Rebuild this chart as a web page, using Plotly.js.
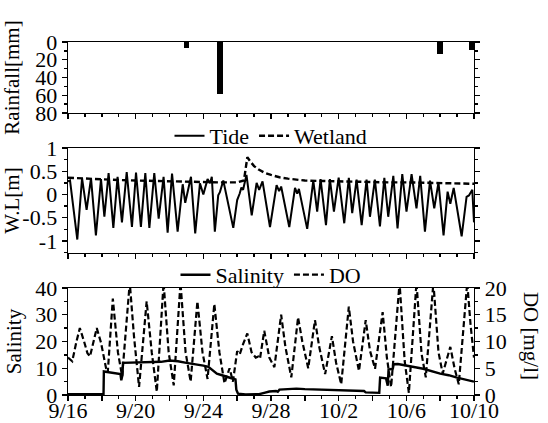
<!DOCTYPE html>
<html><head><meta charset="utf-8">
<script src="https://cdn.plot.ly/plotly-3.0.1.min.js"></script>
<style>body{margin:0;background:#fff}#chart{width:548px;height:423px;}</style>
</head><body><div id="chart"></div>
<script>
// x values are days since 9/16 00:00
const dayTicks = [0,2,4,6,8,10,12,14,16,18,20,22,24];
const dayLabels = ['9/16','','9/20','','9/24','','9/28','','10/2','','10/6','','10/10'];

// Rainfall [mm]
const rainDay = [7, 9, 22, 23.85];
const rainMm  = [7, 59, 13, 9];

// Tide water level [m] (extrema)
const tideDay = [0.00,0.12,0.55,0.83,1.10,1.36,1.65,1.95,2.15,2.40,2.68,2.93,3.19,3.47,3.78,4.02,4.31,4.57,4.81,5.10,5.36,5.65,5.89,6.15,6.48,6.78,6.93,7.27,7.52,7.80,8.00,8.25,8.40,8.50,8.68,8.88,8.98,9.18,9.77,10.00,10.15,10.25,10.35,10.55,10.86,11.15,11.30,11.50,11.94,12.33,12.48,12.60,13.08,13.42,13.55,13.65,14.14,14.50,14.73,14.93,15.25,15.48,15.72,16.00,16.33,16.60,16.80,17.06,17.36,17.65,17.85,18.14,18.44,18.70,18.93,19.23,19.48,19.76,20.01,20.31,20.60,20.82,21.10,21.40,21.65,21.90,22.20,22.44,22.60,22.80,23.27,23.56,23.70,23.90,24.00];
const tideWL  = [0.28,0.30,-0.97,0.35,-0.33,0.35,-0.88,0.33,-0.48,0.46,-0.72,0.38,-0.60,0.48,-0.70,0.47,-0.70,0.46,-0.72,0.46,-0.52,0.38,-0.82,0.45,-0.80,0.22,-0.18,0.38,-0.84,0.24,0.00,0.33,0.24,0.38,-0.80,-0.02,0.05,0.30,-0.72,-0.12,0.02,0.15,0.10,0.42,-0.45,0.25,0.10,0.28,-0.70,0.20,0.07,0.17,-0.70,0.14,0.02,0.12,-0.74,0.30,-0.37,0.33,-0.66,0.33,-0.37,0.36,-0.62,0.36,-0.40,0.32,-0.66,0.32,-0.48,0.32,-0.69,0.36,-0.48,0.40,-0.73,0.44,-0.37,0.44,-0.30,0.40,-0.80,0.30,-0.30,0.26,-0.88,0.06,-0.20,0.14,-0.90,-0.05,-0.02,0.10,-0.60];

// Wetland water level [m]
const wetDay = [0,1,2,3,4,5,6,7,8,9,10,10.4,10.5,10.6,10.8,11.0,11.3,11.6,12.0,12.5,13.0,13.5,14,15,16,17,18,19,20,21,22,23,24];
const wetWL  = [0.36,0.34,0.32,0.31,0.30,0.29,0.28,0.27,0.26,0.26,0.26,0.30,0.55,0.80,0.70,0.61,0.53,0.47,0.42,0.37,0.34,0.32,0.30,0.29,0.28,0.27,0.27,0.26,0.26,0.25,0.24,0.23,0.23];

// Salinity
const salDay = [0,2.1,2.12,2.5,3.0,3.1,3.15,3.22,3.25,4.0,5.0,5.5,6.0,6.5,7.0,7.5,8.0,8.3,8.6,8.8,9.2,9.6,9.9,9.95,10.05,10.5,11.3,11.6,11.9,12.3,12.4,12.5,13.0,13.5,14.0,15.0,16.0,17.0,17.5,17.6,18.4,18.45,18.8,18.9,18.95,19.2,19.25,19.5,20.0,21.0,22.0,22.5,23.0,23.5,24.0];
const salVal = [0.3,0.4,8.8,8.5,8.0,7.8,5.5,7.5,12.0,12.1,12.3,12.4,12.9,12.6,12.0,11.6,11.0,10.5,9.0,8.0,7.2,6.5,5.8,2.0,0.5,0.2,0.3,0.8,1.3,1.5,1.2,2.0,2.2,2.4,2.2,2.0,1.8,1.6,1.5,1.0,0.8,6.5,6.2,3.5,9.5,9.8,11.5,11.6,11.0,9.8,8.0,7.4,6.5,5.7,5.0];

// DO [mg/l]
const doDay = [0,0.25,0.5,0.7,0.95,1.15,1.3,1.5,1.7,1.95,2.25,2.35,2.65,2.95,3.2,3.65,3.9,4.2,4.65,4.95,5.25,5.65,5.95,6.25,6.65,6.95,7.25,7.65,7.95,8.25,8.65,8.95,9.25,9.55,9.75,10.0,10.15,10.35,10.6,10.85,11.1,11.25,11.35,11.6,11.9,12.2,12.6,12.85,13.2,13.6,13.85,14.2,14.6,14.85,15.2,15.6,15.85,16.15,16.6,16.85,17.2,17.6,17.85,18.15,18.6,18.85,19.1,19.6,19.9,20.15,20.6,20.9,21.15,21.6,21.9,22.15,22.6,22.85,23.1,23.6,23.8,24.0];
const doVal = [7,6.3,10,12.5,10,7.8,7.2,10,12.5,9.8,5,4.2,18,8,3.5,21,11,1.5,17.5,8,0.6,21,8,1.8,21,8,2.5,17.5,8,3,17,8,2.2,5,2.5,8.2,7.6,9.5,11.5,8,7,7.2,6.8,12,7,5.2,15,9,3.3,14.5,10,5,14,9,3.9,11,6,2,16.5,10,4.5,14,8.3,4.9,15.5,7,1.5,21,6.4,0.4,21,7.7,3.3,21,8,4,9,5,2,21,13,7];

const FONT = '"Liberation Serif", "Times New Roman", Times, serif';
const K = '#000';
const TICKSZ = 22, TITLESZ = 21, LEGSZ = 22;

function xAx(anchor, labels) {
  return {
    anchor: anchor, domain: [0, 1], range: [0, 24],
    tickmode: 'array', tickvals: dayTicks, ticktext: dayLabels,
    showticklabels: labels, ticks: 'outside', ticklen: 5, tickwidth: 1.4, tickcolor: K,
    minor: {tickmode: 'linear', tick0: 0, dtick: 1, ticks: 'outside', ticklen: 3, tickwidth: 1.4, tickcolor: K},
    showline: true, linecolor: K, linewidth: 1.4, mirror: true,
    showgrid: false, zeroline: false,
    tickfont: {family: FONT, size: TICKSZ, color: K}
  };
}
function yAx(anchor, domain, range, vals, texts, minorStep, title, standoff) {
  return {
    anchor: anchor, domain: domain, range: range,
    tickmode: 'array', tickvals: vals, ticktext: texts,
    ticks: 'outside', ticklen: 5, tickwidth: 1.4, tickcolor: K,
    minor: {tickmode: 'linear', tick0: 0, dtick: minorStep, ticks: 'outside', ticklen: 3, tickwidth: 1.4, tickcolor: K},
    showline: true, linecolor: K, linewidth: 1.4, mirror: 'ticks',
    showgrid: false, zeroline: false,
    tickfont: {family: FONT, size: TICKSZ, color: K},
    title: {text: title, font: {family: FONT, size: TITLESZ, color: K}, standoff: standoff}
  };
}

const traces = [
  {type: 'bar', x: rainDay, y: rainMm, xaxis: 'x', yaxis: 'y', width: 0.34,
   marker: {color: K, line: {width: 0}}, showlegend: false},
  {type: 'scatter', mode: 'lines', name: 'Tide', x: tideDay, y: tideWL, xaxis: 'x2', yaxis: 'y2',
   line: {color: K, width: 2}, legend: 'legend'},
  {type: 'scatter', mode: 'lines', name: 'Wetland', x: wetDay, y: wetWL, xaxis: 'x2', yaxis: 'y2',
   line: {color: K, width: 2.4, dash: '6px,3px'}, legend: 'legend'},
  {type: 'scatter', mode: 'lines', name: 'Salinity', x: salDay, y: salVal, xaxis: 'x3', yaxis: 'y3',
   line: {color: K, width: 2.4}, legend: 'legend2'},
  {type: 'scatter', mode: 'lines', name: 'DO', x: doDay, y: doVal, xaxis: 'x3', yaxis: 'y4',
   line: {color: K, width: 2.2, dash: '6px,3px'}, legend: 'legend2'}
];

const y1 = yAx('x', [0.7139, 0.8937], [80, 0], [0,20,40,60,80], ['0','20','40','60','80'], 10, 'Rainfall[mm]', 10);
const y2 = yAx('x2', [0.3595, 0.6253], [-1.26, 1], [-1,-0.5,0,0.5,1], ['-1','-0.5','0','0.5','1'], 0.25, 'W.L[m]', 1);
const y3 = yAx('x3', [0, 0.2709], [0, 40], [0,10,20,30,40], ['0','10','20','30','40'], 5, 'Salinity', 8);
y3.mirror = false;
const y4 = {
  overlaying: 'y3', side: 'right', anchor: 'x3', range: [0, 20],
  tickmode: 'array', tickvals: [0,5,10,15,20], ticktext: ['0','5','10','15','20'],
  ticks: 'outside', ticklen: 5, tickwidth: 1.4, tickcolor: K,
  minor: {tickmode: 'linear', tick0: 0, dtick: 2.5, ticks: 'outside', ticklen: 3, tickwidth: 1.4, tickcolor: K},
  showline: true, linecolor: K, linewidth: 1.4, showgrid: false, zeroline: false,
  tickfont: {family: FONT, size: TICKSZ, color: K}
};
const x3 = xAx('y3', true);
x3.ticklabelstandoff = -10;

const legendBase = {orientation: 'h', xanchor: 'center', yanchor: 'middle', bgcolor: 'rgba(0,0,0,0)',
  font: {family: FONT, size: LEGSZ, color: K}, itemwidth: 30, tracegroupgap: 0};

const layout = {
  width: 548, height: 423,
  margin: {l: 68, r: 74, t: 0, b: 28},
  paper_bgcolor: '#fff', plot_bgcolor: '#fff',
  font: {family: FONT, color: K},
  xaxis: xAx('y', false),
  xaxis2: xAx('y2', false),
  xaxis3: x3,
  yaxis: y1, yaxis2: y2, yaxis3: y3, yaxis4: y4,
  legend: Object.assign({x: 0.5, y: 0.656}, legendBase),
  legend2: Object.assign({x: 0.5, y: 0.304}, legendBase),
  bargap: 0,
  annotations: [{
    text: 'DO [mg/l]', xref: 'paper', yref: 'paper', x: 1.14, y: 0.15,
    xanchor: 'center', yanchor: 'middle', textangle: 90, showarrow: false,
    font: {family: FONT, size: TITLESZ, color: K}
  }]
};

Plotly.newPlot('chart', traces, layout, {staticPlot: true, displayModeBar: false});
</script>
</body></html>
